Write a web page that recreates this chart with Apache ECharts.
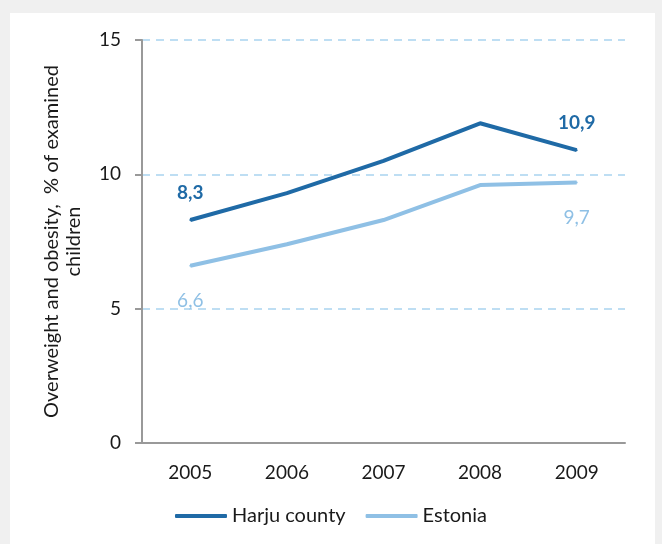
<!DOCTYPE html>
<html lang="en">
<head>
<meta charset="UTF-8">
<title>Overweight and obesity</title>
<script src="https://cdn.jsdelivr.net/npm/echarts@6/dist/echarts.min.js"></script>
<style>
  body { margin: 0; background: #f0f0f0; }
</style>
</head>
<body>
<div id="main" style="width: 662px;height:544px;"></div>
<script>
  const years = ['2005', '2006', '2007', '2008', '2009'];
  const harju = [8.3, 9.3, 10.5, 11.9, 10.9];
  const estonia = [6.6, 7.4, 8.3, 9.6, 9.7];
  const yTicks = [0, 5, 10, 15];

  const dark = '#1f6aa6';
  const light = '#8fc0e5';
  const font = 'Lato, "Noto Sans", sans-serif';

  // only the first and last points carry a value label
  function withEndLabels(values) {
    return values.map(function (v, i) {
      const end = i === 0 || i === values.length - 1;
      return end ? v : { value: v, label: { show: false } };
    });
  }

  function endLabel(pos, dist, color, weight) {
    return {
      show: true,
      position: pos,
      distance: dist,
      color: color,
      fontWeight: weight,
      fontSize: 19,
      fontFamily: font,
      formatter: function (p) { return String(p.value).replace('.', ','); }
    };
  }

  const myChart = echarts.init(document.getElementById('main'));
  const option = {
    backgroundColor: '#f0f0f0',
    graphic: [{
      type: 'rect',
      z: -10,
      shape: { x: 10, y: 13, width: 645, height: 540 },
      style: { fill: '#fff' }
    }],
    grid: { left: 142, right: 37, top: 40, bottom: 101 },
    legend: {
      bottom: 13,
      left: 'center',
      itemWidth: 52,
      itemHeight: 4,
      itemGap: 20,
      icon: 'roundRect',
      textStyle: { fontSize: 20, fontFamily: font, color: '#1a1a1a' },
      data: ['Harju county', 'Estonia']
    },
    xAxis: {
      type: 'category',
      data: years,
      boundaryGap: true,
      axisLine: { lineStyle: { color: '#999', width: 2 } },
      axisTick: { length: 8, lineStyle: { color: '#999', width: 2 } },
      axisLabel: { margin: 20, fontSize: 19, fontFamily: font, color: '#1a1a1a' }
    },
    yAxis: {
      type: 'value',
      min: yTicks[0],
      max: yTicks[yTicks.length - 1],
      interval: 5,
      name: 'Overweight and obesity,  % of examined\nchildren',
      nameLocation: 'middle',
      nameGap: 57,
      nameRotate: 90,
      nameTextStyle: { fontSize: 20, fontFamily: font, color: '#1a1a1a', lineHeight: 22 },
      axisLine: { show: true, lineStyle: { color: '#999', width: 2 } },
      axisTick: { show: true, length: 7, lineStyle: { color: '#999', width: 2 } },
      axisLabel: { margin: 21, fontSize: 19, fontFamily: font, color: '#1a1a1a' },
      splitLine: { show: true, lineStyle: { color: '#a9d3ef', width: 1.5, type: [8, 6] } }
    },
    series: [
      {
        name: 'Harju county',
        type: 'line',
        data: withEndLabels(harju),
        color: dark,
        symbol: 'circle',
        symbolSize: 2,
        label: endLabel('top', 17, dark, 'bold'),
        lineStyle: { width: 4, color: dark }
      },
      {
        name: 'Estonia',
        type: 'line',
        data: withEndLabels(estonia),
        color: light,
        symbol: 'circle',
        symbolSize: 2,
        label: endLabel('bottom', 25, light, 'normal'),
        lineStyle: { width: 4, color: light }
      }
    ]
  };
  myChart.setOption(option);
</script>
</body>
</html>
